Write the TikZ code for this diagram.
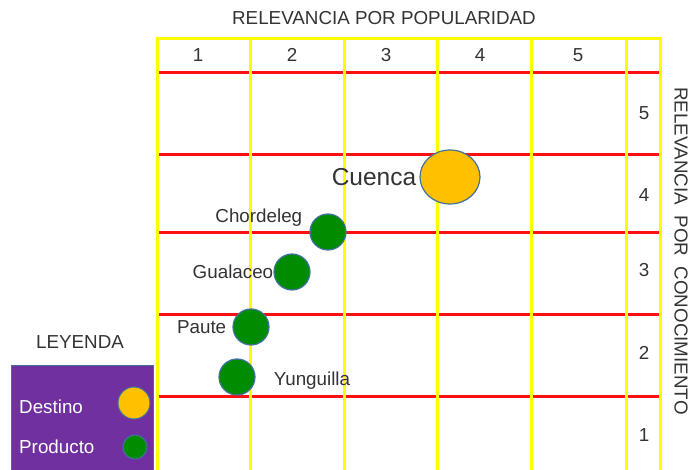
\documentclass[tikz,border=0pt]{standalone}
\usepackage{fontspec}
\setmainfont{Liberation Sans}
\usetikzlibrary{positioning,shapes.geometric}

\definecolor{gridyellow}{HTML}{FFFF00}
\definecolor{gridred}{HTML}{FF1010}
\definecolor{destorange}{HTML}{FFC000}
\definecolor{prodgreen}{HTML}{008C00}
\definecolor{edgeblue}{HTML}{41719C}
\definecolor{legpurple}{HTML}{7030A0}
\definecolor{textgray}{HTML}{333333}

\begin{document}
\begin{tikzpicture}[x=1pt,y=-1pt,
	txt/.style={text=textgray, font=\fontsize{18.8}{20}\selectfont, inner sep=0pt},
	legtxt/.style={text=white, font=\fontsize{18.8}{20}\selectfont, inner sep=0pt},
	prod/.style={circle, fill=prodgreen, draw=edgeblue, line width=1.2pt, minimum size=36pt, inner sep=0pt},
	dest/.style={ellipse, fill=destorange, draw=edgeblue, line width=1.2pt, minimum width=60pt, minimum height=54pt, inner sep=0pt}]
	\useasboundingbox (0,0) rectangle (689,470);

	% grid
	\foreach \y in {73,155,233,315,397}
		\draw [gridred, line width=3pt] (157,\y) -- (660,\y);
	\foreach \x in {157,250,344,437,531,626,660}
		\draw [gridyellow, line width=3pt] (\x,39) -- (\x,470);
	\draw [gridyellow, line width=3pt] (155.5,39) -- (661.5,39);

	% axis titles and numbers
	\node [txt] (popular) at (384,18) {RELEVANCIA POR POPULARIDAD};
	\node [txt, rotate=-90] (conocim) at (681,251) {RELEVANCIA\ \ POR\ \ CONOCIMIENTO};
	\foreach \n/\x in {1/198,2/292,3/386,4/480,5/578}
		\node [txt] (col\n) at (\x,55) {\n};
	\foreach \n/\y in {5/113,4/195,3/270,2/353,1/435}
		\node [txt] (row\n) at (644,\y) {\n};

	% places
	\node [dest] (cuenca) at (450,177) {};
	\node [prod] (chordeleg) at (328,232) {};
	\node [prod] (gualaceo) at (292,272) {};
	\node [prod] (paute) at (251,327) {};
	\node [prod] (yunguilla) at (237,377) {};

	\node [txt, font=\fontsize{24.5}{26}\selectfont, left=3pt of cuenca] (cuencalbl) {Cuenca};
	\node [txt, left=7pt of chordeleg, yshift=14pt] (chordeleglbl) {Chordeleg};
	\node [txt, left=0pt of gualaceo] (gualaceolbl) {Gualaceo};
	\node [txt, left=6pt of paute] (pautelbl) {Paute};
	\node [txt, right=18pt of yunguilla, yshift=-4pt] (yunguillalbl) {Yunguilla};

	% legend
	\node [txt] (leyenda) at (80,342) {LEYENDA};
	\draw [fill=legpurple, draw=edgeblue, line width=1pt] (11,366) rectangle (153,471);
	\node [legtxt, anchor=west] (destino) at (19,407) {Destino};
	\node [legtxt, anchor=west] (producto) at (19,447) {Producto};
	\node [circle, fill=destorange, draw=edgeblue, line width=1pt, minimum size=32pt, inner sep=0pt] (destkey) at (134,403) {};
	\node [circle, fill=prodgreen, draw=edgeblue, line width=1pt, minimum size=24pt, inner sep=0pt] (prodkey) at (135,447) {};
\end{tikzpicture}
\end{document}
